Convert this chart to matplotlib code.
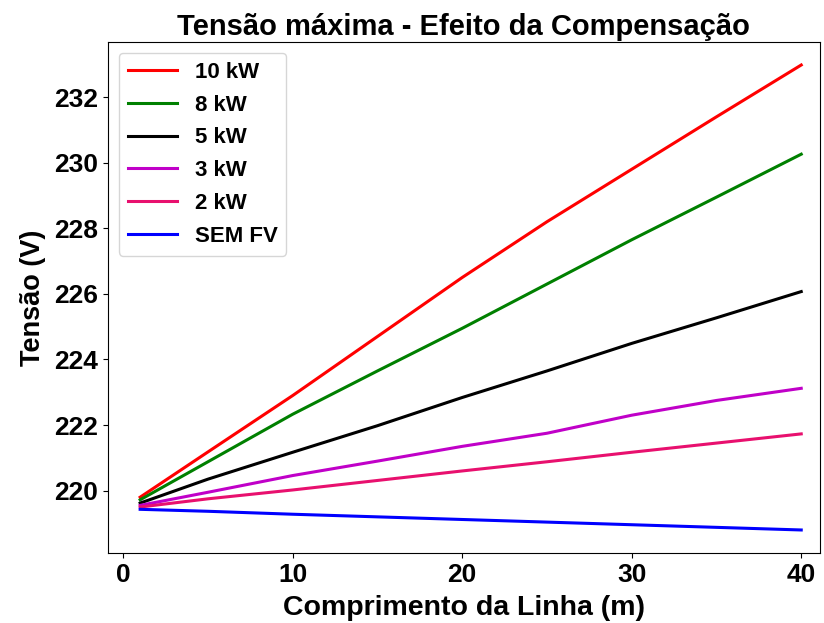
import matplotlib
matplotlib.use("Agg")
import matplotlib.pyplot as plt

plt.rcParams['font.family'] = ['Liberation Sans', 'DejaVu Sans']
plt.rcParams['font.weight'] = 'bold'

comprimento = [1, 5, 10, 15, 20, 25, 30, 35, 40]
v_10kw = [219.80, 221.18, 222.90, 224.70, 226.50, 228.20, 229.80, 231.40, 232.98]
v_8kw = [219.72, 220.88, 222.33, 223.65, 224.95, 226.30, 227.65, 228.95, 230.26]
v_5kw = [219.62, 220.35, 221.17, 221.98, 222.84, 223.65, 224.49, 225.27, 226.07]
v_3kw = [219.55, 219.95, 220.46, 220.90, 221.35, 221.75, 222.30, 222.75, 223.12]
v_2kw = [219.50, 219.75, 220.02, 220.31, 220.60, 220.88, 221.17, 221.45, 221.73]
v_semfv = [219.43, 219.37, 219.28, 219.20, 219.12, 219.04, 218.96, 218.88, 218.80]

series = [
    ("10 kW", v_10kw, "red"),
    ("8 kW", v_8kw, "green"),
    ("5 kW", v_5kw, "black"),
    ("3 kW", v_3kw, "#c000c8"),
    ("2 kW", v_2kw, "#e8106e"),
    ("SEM FV", v_semfv, "blue"),
]

fig = plt.figure(figsize=(8.24, 6.23), dpi=100)
ax = fig.add_axes([0.131, 0.112, 0.864, 0.821])
for label, vals, col in series:
    ax.plot(comprimento, vals, color=col, linewidth=2.2, label=label)

ax.set_xlim(-0.9, 41.1)
ax.set_xticks([0, 10, 20, 30, 40])
ax.set_yticks([220, 222, 224, 226, 228, 230, 232])
ax.tick_params(labelsize=19)
for lab in ax.get_xticklabels() + ax.get_yticklabels():
    lab.set_fontweight('bold')
ax.set_title("Tensão máxima - Efeito da Compensação", fontsize=21, fontweight='bold', pad=5)
ax.set_xlabel("Comprimento da Linha (m)", fontsize=20.5, fontweight='bold', labelpad=6)
ax.set_ylabel("Tensão (V)", fontsize=19.5, fontweight='bold', labelpad=6)
leg = ax.legend(loc='upper left', prop={'size': 16, 'weight': 'bold'},
                handlelength=2.2, borderaxespad=0.5, labelspacing=0.53)

fig.savefig("out.png", dpi=100)
